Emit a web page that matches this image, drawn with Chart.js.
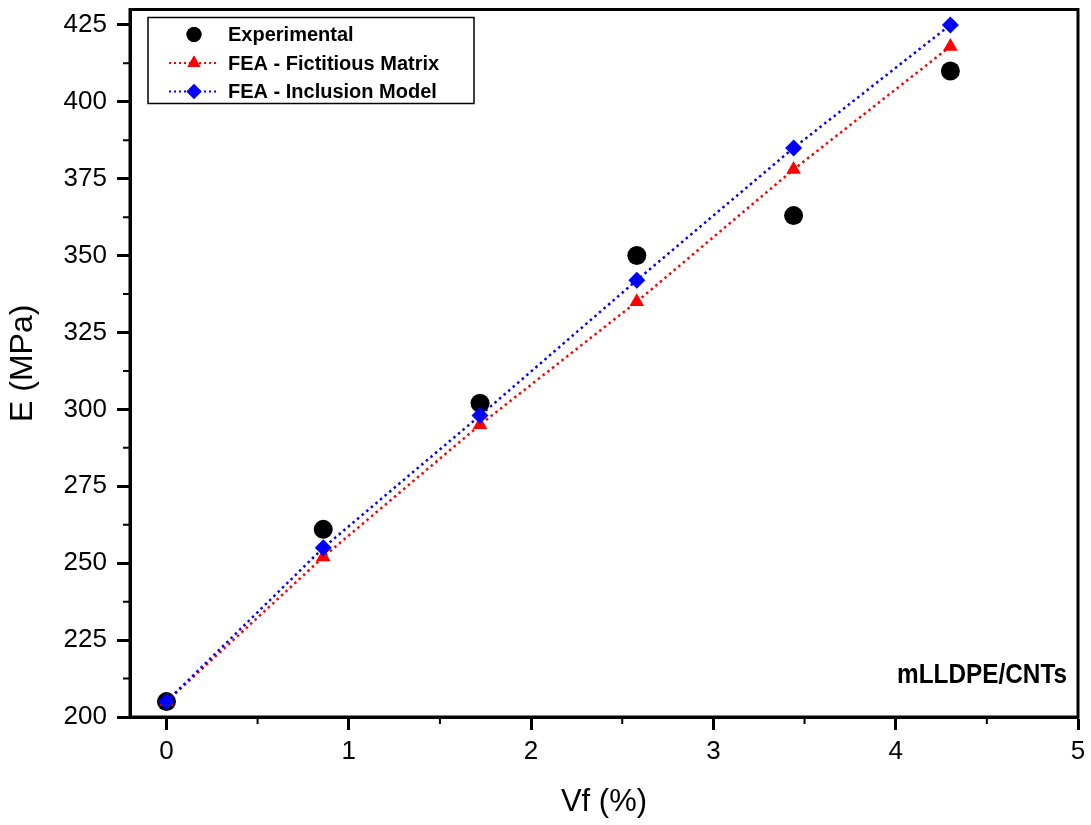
<!DOCTYPE html>
<html lang="en">
<head>
    <meta charset="UTF-8">
    <title>mLLDPE/CNTs</title>
    <script src="https://cdn.jsdelivr.net/npm/chart.js"></script>
    <style>
        html, body { margin: 0; padding: 0; background: #fff; }
        #box { width: 1091px; height: 825px; }
    </style>
</head>
<body>
    <div id="box">
        <canvas id="grafico"></canvas>
    </div>

<script>
    // valores
    var vf = [0, 0.86, 1.72, 2.58, 3.44, 4.3];
    var experimental = [205, 261, 302, 350, 363, 410];
    var fictitious = [205, 252, 295, 335, 378, 418];
    var inclusion = [205, 255, 298, 342, 385, 425];
    var xTicks = [0, 1, 2, 3, 4, 5];
    var yTicks = [200, 225, 250, 275, 300, 325, 350, 375, 400, 425];

    var fonte = "'Liberation Sans', Arial, sans-serif";

    function pontos(ys) {
        return vf.map(function (x, i) { return { x: x, y: ys[i] }; });
    }

    // moldura, ticks menores, legenda e rotulo
    var extras = {
        id: 'extras',
        afterDraw: function (chart) {
            var ctx = chart.ctx;
            var a = chart.chartArea;
            var sx = chart.scales.x, sy = chart.scales.y;
            ctx.save();
            ctx.strokeStyle = '#000';
            ctx.lineWidth = 3;
            ctx.strokeRect(a.left, a.top, a.right - a.left, a.bottom - a.top);

            // ticks menores
            ctx.lineWidth = 2;
            ctx.beginPath();
            for (var v = 0.5; v < 5; v += 1) {
                var px = sx.getPixelForValue(v);
                ctx.moveTo(px, a.bottom);
                ctx.lineTo(px, a.bottom + 7);
            }
            for (var w = 212.5; w < 430; w += 25) {
                var py = sy.getPixelForValue(w);
                ctx.moveTo(a.left, py);
                ctx.lineTo(a.left - 7, py);
            }
            ctx.stroke();

            // legenda
            var lx = a.left + 18, ly = a.top + 8;
            ctx.lineWidth = 1.5;
            ctx.strokeRect(lx, ly, 326, 86);
            ctx.font = 'bold 20px ' + fonte;
            ctx.textBaseline = 'middle';
            ctx.fillStyle = '#000';
            var itens = [
                { nome: 'Experimental', cor: '#000', forma: 'circle', linha: false },
                { nome: 'FEA - Fictitious Matrix', cor: '#ff0000', forma: 'triangle', linha: true },
                { nome: 'FEA - Inclusion Model', cor: '#0000ff', forma: 'rectRot', linha: true }
            ];
            itens.forEach(function (it, i) {
                var yy = ly + 17 + i * 28.5;
                var cx = lx + 46;
                if (it.linha) {
                    ctx.save();
                    ctx.strokeStyle = it.cor;
                    ctx.lineWidth = 2;
                    ctx.setLineDash([2, 3]);
                    ctx.beginPath();
                    ctx.moveTo(lx + 21, yy);
                    ctx.lineTo(lx + 71, yy);
                    ctx.stroke();
                    ctx.restore();
                }
                ctx.fillStyle = it.cor;
                Chart.helpers.drawPoint(ctx, { pointStyle: it.forma, radius: 7.5, rotation: 0, borderWidth: 0 }, cx, yy);
                ctx.fill();
                ctx.fillStyle = '#000';
                ctx.fillText(it.nome, lx + 80, yy + 1, 246);
            });

            ctx.font = 'bold 28px ' + fonte;
            ctx.textAlign = 'right';
            ctx.fillText('mLLDPE/CNTs', a.right - 11, a.bottom - 42, 170);
            ctx.restore();
        }
    };

    var config = {
        type: 'scatter',
        data: {
            datasets: [{
                label: 'Experimental',
                data: pontos(experimental),
                order: 3,
                showLine: false,
                pointStyle: 'circle',
                pointRadius: 9.5,
                pointHoverRadius: 9.5,
                backgroundColor: '#000',
                borderColor: '#000',
                borderWidth: 0
            }, {
                label: 'FEA - Fictitious Matrix',
                data: pontos(fictitious),
                order: 2,
                showLine: true,
                pointStyle: 'triangle',
                pointRadius: 8.5,
                pointHoverRadius: 8.5,
                backgroundColor: '#ff0000',
                pointBorderWidth: 0,
                borderColor: '#ff0000',
                borderWidth: 2.5,
                borderDash: [2.5, 3.5]
            }, {
                label: 'FEA - Inclusion Model',
                data: pontos(inclusion),
                order: 1,
                showLine: true,
                pointStyle: 'rectRot',
                pointRadius: 8.5,
                pointHoverRadius: 8.5,
                backgroundColor: '#0000ff',
                pointBorderWidth: 0,
                borderColor: '#0000ff',
                borderWidth: 2.5,
                borderDash: [2.5, 3.5]
            }]
        },
        options: {
            responsive: true,
            maintainAspectRatio: false,
            animation: false,
            layout: { padding: { top: 8, right: 13, left: 0, bottom: 0 } },
            plugins: {
                legend: { display: false },
                tooltip: { enabled: false }
            },
            scales: {
                x: {
                    type: 'linear',
                    min: -0.2,
                    max: 5,
                    afterBuildTicks: function (s) { s.ticks = xTicks.map(function (v) { return { value: v }; }); },
                    afterFit: function (s) { s.height = 108; s.paddingLeft = 0; s.paddingRight = 0; },
                    border: { color: '#000', width: 3 },
                    grid: { drawOnChartArea: false, drawTicks: true, tickLength: 13, tickWidth: 3, tickColor: '#000' },
                    ticks: { color: '#000', font: { family: fonte, size: 26 }, padding: 6 },
                    title: { display: true, text: 'Vf (%)', color: '#000', font: { family: fonte, size: 31 }, padding: { top: 2 } }
                },
                y: {
                    type: 'linear',
                    min: 200,
                    max: 430,
                    afterBuildTicks: function (s) { s.ticks = yTicks.map(function (v) { return { value: v }; }); },
                    afterFit: function (s) { s.width = 130; s.paddingTop = 0; s.paddingBottom = 0; },
                    border: { color: '#000', width: 3 },
                    grid: { drawOnChartArea: false, drawTicks: true, tickLength: 13, tickWidth: 3, tickColor: '#000' },
                    ticks: { color: '#000', font: { family: fonte, size: 26 }, padding: 10 },
                    title: { display: true, text: 'E (MPa)', color: '#000', font: { family: fonte, size: 32 }, padding: { top: 4, bottom: 0 } }
                }
            }
        },
        plugins: [extras]
    };

    var grafico = new Chart(document.getElementById('grafico'), config);
</script>
</body>
</html>
